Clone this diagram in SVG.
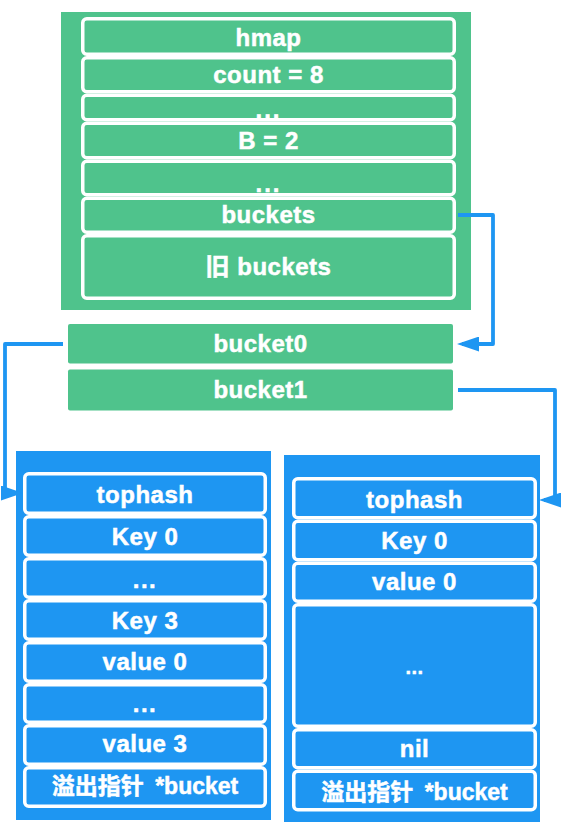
<svg xmlns="http://www.w3.org/2000/svg" width="564" height="828" viewBox="0 0 564 828">
<style>
.g{fill:#4fc38c}
.b{fill:#1e96f2}
.gr{fill:#4fc38c;stroke:#fff;stroke-width:3.5}
.br{fill:#1e96f2;stroke:#fff;stroke-width:3.5}
text{font-family:"Liberation Sans","Noto Sans CJK SC",sans-serif;font-weight:bold;font-size:24px;fill:#fff;stroke:#fff;stroke-width:0.5;text-anchor:middle;letter-spacing:0.5px}
.c{stroke:#1e96f2;stroke-width:3.8;fill:none;stroke-linejoin:round}
</style>
<defs>
<marker id="ah" viewBox="0 0 22 15" refX="17" refY="7.5" markerWidth="22" markerHeight="15" markerUnits="userSpaceOnUse" orient="auto">
<path d="M0,0 L22,7.5 L0,15 Z" fill="#1e96f2"/>
</marker>
</defs>

<g id="hmap">
<rect class="g" x="61" y="12" width="410" height="298"/>
<g id="hmap-row"><rect class="gr" x="82.75" y="18.75" width="371.5" height="35.5" rx="4"/><text x="268.5" y="46">hmap</text></g>
<g id="count-row"><rect class="gr" x="82.75" y="57.75" width="371.5" height="34" rx="4"/><text x="268.5" y="83">count = 8</text></g>
<g id="dots1-row"><rect class="gr" x="82.75" y="95.25" width="371.5" height="24.5" rx="4"/><text x="268.5" y="118" style="letter-spacing:2px">...</text></g>
<g id="B-row"><rect class="gr" x="82.75" y="123.25" width="371.5" height="34.5" rx="4"/><text x="268.5" y="149">B = 2</text></g>
<g id="dots2-row"><rect class="gr" x="82.75" y="161.25" width="371.5" height="33.5" rx="4"/><text x="268.5" y="192" style="letter-spacing:2px">...</text></g>
<g id="buckets-row"><rect class="gr" x="82.75" y="198.25" width="371.5" height="34" rx="4"/><text x="268.5" y="223">buckets</text></g>
<g id="oldbuckets-row"><rect class="gr" x="82.75" y="235.75" width="371.5" height="62.5" rx="4"/><text x="268.5" y="275">旧 buckets</text></g>
</g>

<g id="bucket0">
<rect class="g" x="68" y="324" width="385" height="39.5" rx="2"/>
<text x="260.5" y="352">bucket0</text>
</g>
<g id="bucket1">
<rect class="g" x="68" y="369.5" width="385" height="41" rx="2"/>
<text x="260.5" y="398">bucket1</text>
</g>

<g id="bucket0-detail">
<rect class="b" x="16" y="451" width="255" height="369"/>
<g><rect class="br" x="24.75" y="473.75" width="240.5" height="39.5" rx="4"/><text x="145" y="503">tophash</text></g>
<g><rect class="br" x="24.75" y="516.75" width="240.5" height="38.5" rx="4"/><text x="145" y="545">Key 0</text></g>
<g><rect class="br" x="24.75" y="558.75" width="240.5" height="38.5" rx="4"/><text x="145" y="588" style="letter-spacing:1.5px">...</text></g>
<g><rect class="br" x="24.75" y="600.75" width="240.5" height="38.5" rx="4"/><text x="145" y="629">Key 3</text></g>
<g><rect class="br" x="24.75" y="642.75" width="240.5" height="38.5" rx="4"/><text x="145" y="670">value 0</text></g>
<g><rect class="br" x="24.75" y="684.75" width="240.5" height="37.5" rx="4"/><text x="145" y="712" style="letter-spacing:1.5px">...</text></g>
<g><rect class="br" x="24.75" y="725.75" width="240.5" height="38.5" rx="4"/><text x="145" y="752">value 3</text></g>
<g><rect class="br" x="24.75" y="767.75" width="240.5" height="38.5" rx="4"/><text x="145" y="794" style="font-size:23px;letter-spacing:0">溢出指针 <tspan dx="5">*bucket</tspan></text></g>
</g>

<g id="bucket1-detail">
<rect class="b" x="284" y="455" width="256" height="367"/>
<g><rect class="br" x="293.75" y="478.75" width="241.5" height="39" rx="4"/><text x="414.5" y="508">tophash</text></g>
<g><rect class="br" x="293.75" y="521.25" width="241.5" height="38.5" rx="4"/><text x="414.5" y="549">Key 0</text></g>
<g><rect class="br" x="293.75" y="563.25" width="241.5" height="38" rx="4"/><text x="414.5" y="590">value 0</text></g>
<g><rect class="br" x="293.75" y="604.75" width="241.5" height="121.5" rx="4"/><text x="414.5" y="674" style="font-size:20px">...</text></g>
<g><rect class="br" x="293.75" y="729.75" width="241.5" height="38" rx="4"/><text x="414.5" y="757">nil</text></g>
<g><rect class="br" x="293.75" y="771.25" width="241.5" height="38.5" rx="4"/><text x="414.5" y="800" style="font-size:23px;letter-spacing:0">溢出指针 <tspan dx="5">*bucket</tspan></text></g>
</g>

<g id="connectors">
<path class="c" d="M458,215 H493 V344 H462" marker-end="url(#ah)"/>
<path class="c" d="M63,344 H5 V493 H18" marker-end="url(#ah)"/>
<path class="c" d="M458,390 H555 V500 H544" marker-end="url(#ah)"/>
</g>
</svg>
